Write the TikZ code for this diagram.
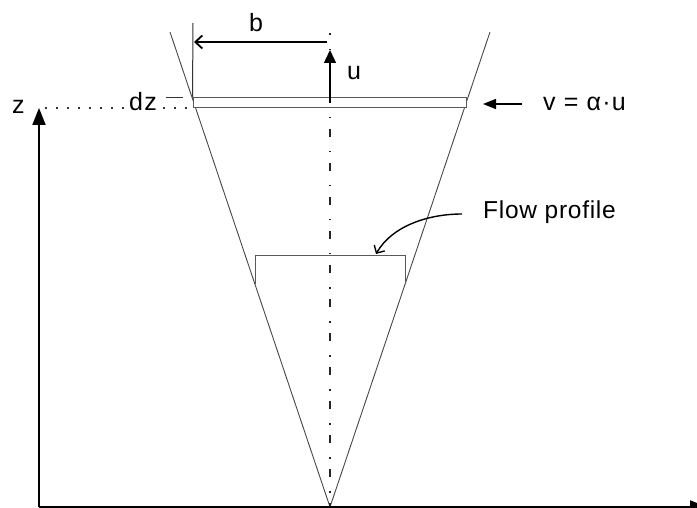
\documentclass[tikz,border=0pt]{standalone}
\usepackage{fontspec}
\setmainfont{Liberation Sans}
\newfontfamily\lblfont{Liberation Sans}[LetterSpace=5]
\newfontfamily\fpfont{Liberation Sans}[LetterSpace=3]
\usetikzlibrary{arrows.meta}
\begin{document}
\begin{tikzpicture}[x=1pt,y=-1pt,
  lbl/.style={anchor=base west,inner sep=0pt,font=\fontsize{25}{29}\lblfont},
  fplbl/.style={anchor=base west,inner sep=0pt,font=\fontsize{24.5}{28}\fpfont},
  coneline/.style={line width=0.9pt,draw=black!72},
  grayline/.style={line width=1pt,draw=black!65},
  arr/.style={line width=1.5pt,draw=black},
  axisline/.style={line width=2pt,draw=black},
  dashdotline/.style={line width=1.2pt,draw=black!85,dash pattern=on 8pt off 14pt on 1.5pt off 10.5pt,dash phase=6pt},
  dotline/.style={line width=1.8pt,draw=black!80,dash pattern=on 2pt off 9pt}]
\useasboundingbox (0,0) rectangle (697,508);
\clip (0,0) rectangle (697,508);
% coordinates
\coordinate (apex) at (330,507);
\coordinate (LT) at (170,32);
\coordinate (RT) at (490,32);
\coordinate (orig) at (39,507);
\coordinate (ztip) at (39,108);
\coordinate (xtip) at (707,507);
\coordinate (ctop) at (330,33);
% cone
\draw[coneline] (LT) -- (apex) -- (RT);
% centre line
\draw[dashdotline] (ctop) -- (apex);
% slab
\node[draw=black!65,line width=1pt,fill=white,minimum width=273pt,minimum height=10pt,inner sep=0pt] (slab) at (329.5,103) {};
% b
\coordinate (btop) at (193,23);
\draw[grayline,draw=black!80] (btop) -- (slab.north west);
\coordinate (bstart) at (327,42);
\coordinate (bend) at (194,42);
\draw[arr,-{Straight Barb[length=7pt,width=13pt,line width=1.8pt]}] (bstart) -- (bend);
\node[lbl] (blabel) at (249,32) {b};
% u
\coordinate (ustart) at (330,103);
\coordinate (uend) at (330,50);
\draw[arr,-{Triangle[length=13pt,width=12pt]}] (ustart) -- (uend);
\node[lbl] (ulabel) at (347,80) {u};
% axes
\draw[axisline,-{Triangle[length=17pt,width=13pt]}] (orig) -- (ztip);
\draw[axisline,-{Triangle[length=17pt,width=13pt]}] (orig) -- (xtip);
% z and dz
\node[lbl] (zlabel) at (12,114) {z};
\node[lbl] (dzlabel) at (129,111) {dz};
\coordinate (d1a) at (45,108);
\coordinate (d1b) at (124,108);
\coordinate (d2a) at (163,108);
\coordinate (d2b) at (192,108);
\draw[dotline] (d1a) -- (d1b);
\draw[dotline] (d2a) -- (d2b);
\coordinate (dza) at (166,98);
\coordinate (dzb) at (183,98);
\draw[grayline,draw=black!80] (dza) -- (dzb);
% v
\coordinate (vstart) at (522,104);
\coordinate (vend) at (483,104);
\draw[arr,-{Triangle[length=13pt,width=10pt]}] (vstart) -- (vend);
\node[lbl] (vlabel) at (543,110.5) {v = α·u};
% flow profile
\coordinate (fp1) at (255,284);
\coordinate (fp2) at (255,256);
\coordinate (fp3) at (405,256);
\coordinate (fp4) at (405,284);
\draw[grayline] (fp1) -- (fp2) -- (fp3) -- (fp4);
\node[fplbl] (fplabel) at (483,219) {Flow profile};
\coordinate (cstart) at (462,214);
\coordinate (ctip) at (376,254);
\draw[line width=1.4pt,-{Straight Barb[length=6pt,width=12pt]}] (cstart) .. controls (428,214) and (392,226) .. (ctip);
\end{tikzpicture}
\end{document}
